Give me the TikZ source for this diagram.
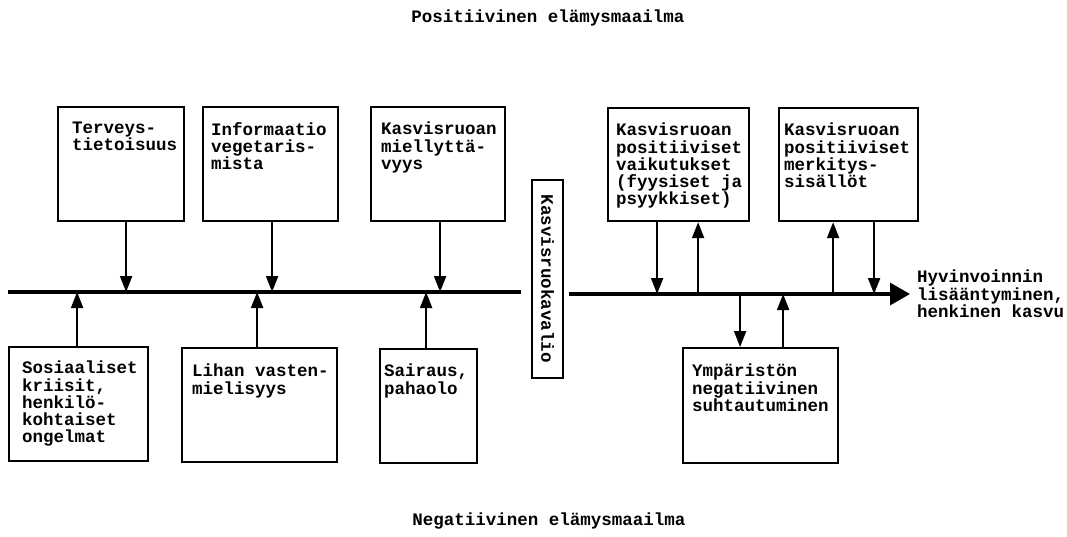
\documentclass[tikz,border=0pt]{standalone}
\usepackage{fontspec}
\setmonofont{Liberation Mono}
\usepackage{tikz}
\usetikzlibrary{arrows.meta}
\newcommand{\kirjoitus}{\ttfamily\bfseries\fontsize{17.5}{17.3}\selectfont}
\newcommand{\laatikko}[5]{\parbox[t][#2pt][t]{#1pt}{\leftskip=#3pt\relax\vspace*{#4pt}#5}}
\tikzset{box node/.style={draw,line width=2.2pt,anchor=north west,inner sep=0pt,font=\kirjoitus},
            teksti/.style={font=\kirjoitus,inner sep=0pt},
            nuoli/.style={line width=2pt,-{Triangle[length=16pt,width=12pt]}},
            viiva/.style={line width=3.2pt},
            }

\begin{document}
\begin{tikzpicture}[x=1pt,y=-1pt]
				\useasboundingbox (0,0) rectangle (1067,536);
				\node[teksti] (pos) at (548,18) {Positiivinen elämysmaailma};
				\node[teksti] (neg) at (549,521) {Negatiivinen elämysmaailma};
				
				\node[box node] (terv) at (57,106) {\laatikko{126}{114}{14}{15}{Terveys-\\tietoisuus}};
				\node[box node] (info) at (202,106) {\laatikko{135}{114}{8}{15}{Informaatio\\vegetaris-\\mista}};
				\node[box node] (miel) at (370,106) {\laatikko{134}{114}{10}{15}{Kasvisruoan\\miellyttä-\\vyys}};
				\node[box node] (sos) at (8,346) {\laatikko{139}{114}{13}{14}{Sosiaaliset\\kriisit,\\henkilö-\\kohtaiset\\ongelmat}};
				\node[box node] (lihan) at (181,347) {\laatikko{155}{114}{10}{16}{Lihan vasten-\\mielisyys}};
				\node[box node] (sair) at (379,348) {\laatikko{97}{114}{4}{15}{Sairaus,\\pahaolo}};
				\node[box node] (vaik) at (607,107) {\laatikko{141}{113}{8}{15}{Kasvisruoan\\positiiviset\\vaikutukset\\(fyysiset ja\\psyykkiset)}};
				\node[box node] (merk) at (778,107) {\laatikko{139}{113}{5}{15}{Kasvisruoan\\positiiviset\\merkitys-\\sisällöt}};
				\node[box node] (ymp) at (682,347) {\laatikko{155}{115}{9}{16}{Ympäristön\\negatiivinen\\suhtautuminen}};
				\node[draw,line width=2.2pt,rotate=-90,minimum width=198pt,minimum height=31pt,inner sep=0pt,font=\kirjoitus] (kasv) at (547.5,279) {Kasvisruokavalio};
				\node[teksti,anchor=west,align=left,inner xsep=7pt] (hyv) at (910,294) {Hyvinvoinnin\\lisääntyminen,\\henkinen kasvu};
				
				\coordinate (vasen) at (8,292);
				\draw[viiva] (vasen) -- ([xshift=-10pt]kasv.south |- vasen);
				\draw[viiva,-{Triangle[length=20pt,width=22pt]}] ([xshift=5pt]kasv.north |- hyv.west) -- (hyv.west);
				
				\draw[nuoli] ([xshift=5pt]terv.south) -- ([xshift=5pt]terv.south |- vasen);
				\draw[nuoli] ([xshift=1.5pt]info.south) -- ([xshift=1.5pt]info.south |- vasen);
				\draw[nuoli] ([xshift=2pt]miel.south) -- ([xshift=2pt]miel.south |- vasen);
				\draw[nuoli] ([xshift=-1.5pt]sos.north) -- ([xshift=-1.5pt]sos.north |- vasen);
				\draw[nuoli] ([xshift=-2.5pt]lihan.north) -- ([xshift=-2.5pt]lihan.north |- vasen);
				\draw[nuoli] ([xshift=-2.5pt]sair.north) -- ([xshift=-2.5pt]sair.north |- vasen);
				
				\draw[nuoli] ([xshift=-21.5pt]vaik.south) -- ([xshift=-21.5pt]vaik.south |- hyv.west);
				\draw[nuoli] ([xshift=19.5pt]vaik.south |- hyv.west) -- ([xshift=19.5pt]vaik.south);
				\draw[nuoli] ([xshift=-15.5pt]merk.south |- hyv.west) -- ([xshift=-15.5pt]merk.south);
				\draw[nuoli] ([xshift=25.5pt]merk.south) -- ([xshift=25.5pt]merk.south |- hyv.west);
				\draw[nuoli] ([xshift=-20.5pt]ymp.north |- hyv.west) -- ([xshift=-20.5pt]ymp.north);
				\draw[nuoli] ([xshift=22.5pt]ymp.north) -- ([xshift=22.5pt]ymp.north |- hyv.west);
			\end{tikzpicture}
\end{document}
